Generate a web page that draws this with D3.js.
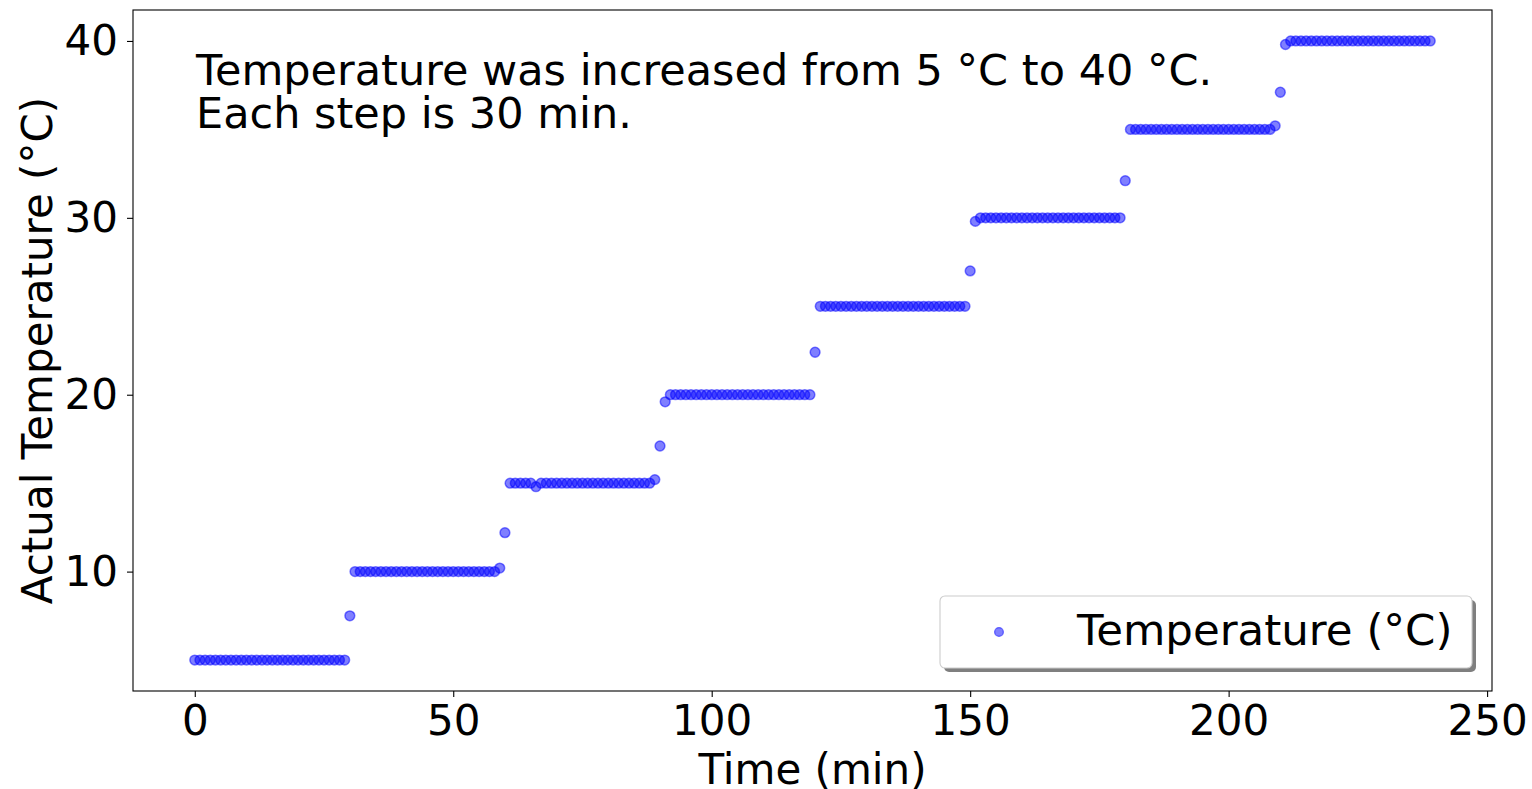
<!DOCTYPE html>
<html>
<head>
<meta charset="utf-8">
<script src="https://cdn.jsdelivr.net/npm/d3@7"></script>
<style>
  html, body { margin: 0; padding: 0; background: #fff; }
  svg { display: block; }
  text { font-family: "DejaVu Sans", sans-serif; fill: #000; }
</style>
</head>
<body>
<svg id="chart" width="1532" height="789"></svg>
<script>
// ---- data ----
const timeMin = [
  0,1,2,3,4,5,6,7,8,9,10,11,12,13,14,15,16,17,18,19,20,21,22,23,24,25,26,27,28,29,
  30,31,32,33,34,35,36,37,38,39,40,41,42,43,44,45,46,47,48,49,50,51,52,53,54,55,56,57,58,59,
  60,61,62,63,64,65,66,67,68,69,70,71,72,73,74,75,76,77,78,79,80,81,82,83,84,85,86,87,88,89,
  90,91,92,93,94,95,96,97,98,99,100,101,102,103,104,105,106,107,108,109,110,111,112,113,114,115,116,117,118,119,
  120,121,122,123,124,125,126,127,128,129,130,131,132,133,134,135,136,137,138,139,140,141,142,143,144,145,146,147,148,149,
  150,151,152,153,154,155,156,157,158,159,160,161,162,163,164,165,166,167,168,169,170,171,172,173,174,175,176,177,178,179,
  180,181,182,183,184,185,186,187,188,189,190,191,192,193,194,195,196,197,198,199,200,201,202,203,204,205,206,207,208,209,
  210,211,212,213,214,215,216,217,218,219,220,221,222,223,224,225,226,227,228,229,230,231,232,233,234,235,236,237,238,239
];
const temperatureC = [
  5,5,5,5,5,5,5,5,5,5,5,5,5,5,5,5,5,5,5,5,5,5,5,5,5,5,5,5,5,5,
  7.5,10,10,10,10,10,10,10,10,10,10,10,10,10,10,10,10,10,10,10,10,10,10,10,10,10,10,10,10,10.2,
  12.2,15,15,15,15,15,14.8,15,15,15,15,15,15,15,15,15,15,15,15,15,15,15,15,15,15,15,15,15,15,15.2,
  17.1,19.6,20,20,20,20,20,20,20,20,20,20,20,20,20,20,20,20,20,20,20,20,20,20,20,20,20,20,20,20,
  22.4,25,25,25,25,25,25,25,25,25,25,25,25,25,25,25,25,25,25,25,25,25,25,25,25,25,25,25,25,25,
  27.0,29.8,30,30,30,30,30,30,30,30,30,30,30,30,30,30,30,30,30,30,30,30,30,30,30,30,30,30,30,30,
  32.1,35,35,35,35,35,35,35,35,35,35,35,35,35,35,35,35,35,35,35,35,35,35,35,35,35,35,35,35,35.2,
  37.1,39.8,40,40,40,40,40,40,40,40,40,40,40,40,40,40,40,40,40,40,40,40,40,40,40,40,40,40,40,40
];
const xTicks = [0, 50, 100, 150, 200, 250];
const yTicks = [10, 20, 30, 40];
const xLabel = "Time (min)";
const yLabel = "Actual Temperature (°C)";
const noteLines = ["Temperature was increased from 5 °C to 40 °C.", "Each step is 30 min."];
const legendLabel = "Temperature (°C)";

// ---- layout ----
const svg = d3.select("#chart");
const plotL = 133, plotR = 1492, plotT = 10, plotB = 691;
const fontPx = 42;
const noteFontPx = 43;
const legendFontPx = 43.5;
const pointColor = "rgba(0,0,255,0.5)";

const xExt = d3.extent(timeMin), yExt = d3.extent(temperatureC);
const xPad = (xExt[1] - xExt[0]) * 0.05, yPad = (yExt[1] - yExt[0]) * 0.05;
const x = d3.scaleLinear().domain([xExt[0] - xPad, xExt[1] + xPad]).range([plotL, plotR]);
const y = d3.scaleLinear().domain([yExt[0] - yPad, yExt[1] + yPad]).range([plotB, plotT]);

const data = timeMin.map((t, i) => ({ t, v: temperatureC[i] }));

// points
svg.append("g")
  .selectAll("circle")
  .data(data)
  .join("circle")
  .attr("cx", d => x(d.t))
  .attr("cy", d => y(d.v))
  .attr("r", 4.9)
  .attr("fill", pointColor)
  .attr("stroke", pointColor)
  .attr("stroke-width", 1.5);

// axes
const xAxis = svg.append("g")
  .attr("transform", `translate(0,${plotB})`)
  .call(d3.axisBottom(x).tickValues(xTicks).tickSize(6).tickPadding(8).tickFormat(d3.format("d")));
const yAxis = svg.append("g")
  .attr("transform", `translate(${plotL},0)`)
  .call(d3.axisLeft(y).tickValues(yTicks).tickSize(6).tickPadding(9).tickFormat(d3.format("d")));
[xAxis, yAxis].forEach(g => {
  g.select(".domain").remove();
  g.selectAll(".tick line").attr("stroke", "#000").attr("stroke-width", 1.1);
  g.selectAll(".tick text").attr("font-size", fontPx).attr("font-family", "DejaVu Sans").attr("fill", "#000");
});

// frame
svg.append("rect")
  .attr("x", plotL).attr("y", plotT)
  .attr("width", plotR - plotL).attr("height", plotB - plotT)
  .attr("fill", "none").attr("stroke", "#000").attr("stroke-width", 1.1);

// axis labels
svg.append("text")
  .attr("x", (plotL + plotR) / 2).attr("y", 784)
  .attr("text-anchor", "middle").attr("font-size", fontPx)
  .text(xLabel);
svg.append("text")
  .attr("transform", `translate(52,${(plotT + plotB) / 2}) rotate(-90)`)
  .attr("text-anchor", "middle").attr("font-size", fontPx)
  .text(yLabel);

// annotation
svg.append("g").selectAll("text")
  .data(noteLines)
  .join("text")
  .attr("x", 196)
  .attr("y", (d, i) => 85 + i * 43)
  .attr("font-size", noteFontPx)
  .text(d => d);

// legend
const lg = svg.append("g");
lg.append("rect")
  .attr("x", 944).attr("y", 600).attr("width", 532).attr("height", 72)
  .attr("rx", 5).attr("fill", "rgba(0,0,0,0.5)");
lg.append("rect")
  .attr("x", 940).attr("y", 596).attr("width", 532).attr("height", 72)
  .attr("rx", 5).attr("fill", "#fff").attr("stroke", "#ccc").attr("stroke-width", 1.1);
lg.append("circle")
  .attr("cx", 999).attr("cy", 632).attr("r", 4.4)
  .attr("fill", pointColor).attr("stroke", pointColor).attr("stroke-width", 1.3);
lg.append("text")
  .attr("x", 1077).attr("y", 645)
  .attr("font-size", legendFontPx)
  .text(legendLabel);
</script>
</body>
</html>
